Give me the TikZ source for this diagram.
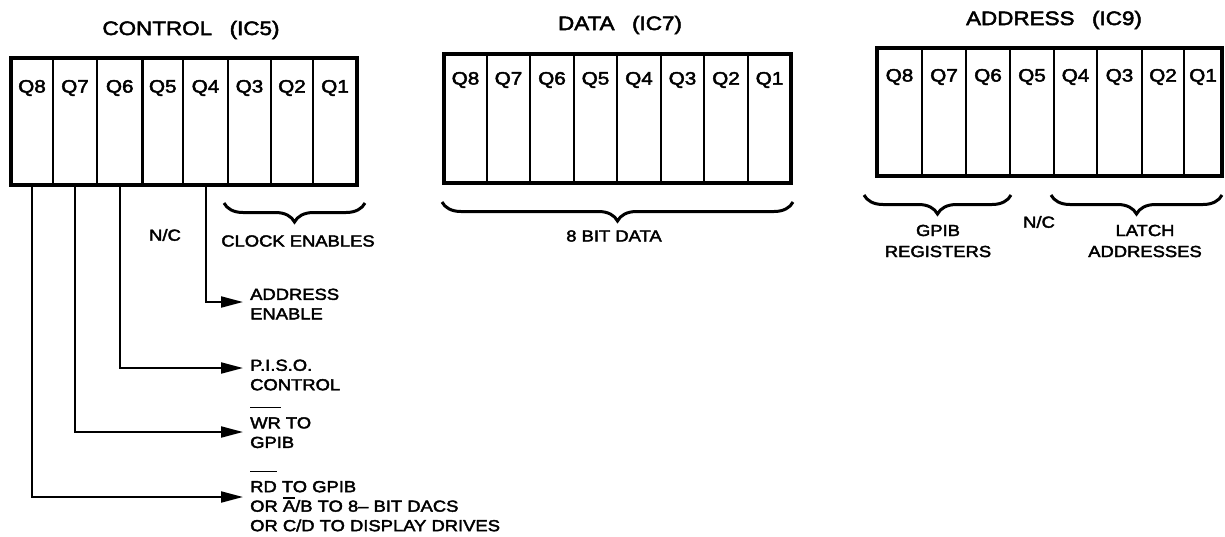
\documentclass[tikz,border=0pt]{standalone}
\usepackage{fontspec}
\setmainfont{Liberation Sans}[FakeStretch=1.15,FakeBold=2.5]
\usetikzlibrary{arrows.meta,decorations.pathreplacing,fit}
\newcommand\myovl[2]{\setbox0\hbox{#2}\rlap{\rule[#1]{\wd0}{1.5pt}}\box0{}}
\begin{document}
\begin{tikzpicture}[x=1pt,y=-1pt,
  cell/.style={draw, line width=2.5pt, inner sep=0pt, outer sep=0pt},
  frame/.style={draw, line width=4.5pt, inner sep=0pt, outer sep=0pt},
  qlbl/.style={font=\fontsize{18}{20}\selectfont, inner sep=0pt},
  ttl/.style={font=\fontsize{19.5}{22}\selectfont, inner sep=0pt},
  lbl/.style={font=\fontsize{16}{19.5}\selectfont, align=left, inner xsep=7pt, inner ysep=0pt},
  clbl/.style={font=\fontsize{16}{21}\selectfont, align=center, inner sep=0pt},
  conn/.style={line width=2pt, -{Triangle[length=22pt,width=11pt]}},
  brc/.style={line width=3pt, decorate, decoration={brace, mirror, amplitude=19pt}},
]
\useasboundingbox (0,0) rectangle (1225,536);

% CONTROL (IC5)
\node[ttl] (tctl) at (191,30) {CONTROL\hspace{0.9em}(IC5)};
\foreach \lab/\xa/\xb in {Q8/11/53,Q7/53/97,Q6/97/142.5,Q5/142.5/183,Q4/183/228,Q3/228/271,Q2/271/313,Q1/313/357}{
  \node[cell, minimum width={(\xb-\xa)*1pt}, minimum height=127pt, anchor=north west] (c\lab) at (\xa,58) {};
  \node[qlbl] (cl\lab) at ([yshift=-30pt]c\lab.north) {\lab};
}
\node[frame, fit=(cQ8)(cQ1)] (ctl) {};

% DATA (IC7)
\node[ttl] (tdat) at (620,25) {DATA\hspace{0.9em}(IC7)};
\foreach \lab/\xa/\xb in {Q8/444/487,Q7/487/530,Q6/530/574,Q5/574/617,Q4/617/661,Q3/661/704,Q2/704/748,Q1/748/791}{
  \node[cell, minimum width={(\xb-\xa)*1pt}, minimum height=129pt, anchor=north west] (d\lab) at (\xa,54) {};
  \node[qlbl] (dl\lab) at ([yshift=-26pt]d\lab.north) {\lab};
}
\node[frame, fit=(dQ8)(dQ1)] (dat) {};

% ADDRESS (IC9)
\node[ttl] (tadr) at (1054,20) {ADDRESS\hspace{0.9em}(IC9)};
\foreach \lab/\xa/\xb in {Q8/877/922,Q7/922/966,Q6/966/1010,Q5/1010/1054,Q4/1054/1097,Q3/1097/1142,Q2/1142/1184,Q1/1184/1222}{
  \node[cell, minimum width={(\xb-\xa)*1pt}, minimum height=128pt, anchor=north west] (a\lab) at (\xa,48) {};
  \node[qlbl] (al\lab) at ([yshift=-29pt]a\lab.north) {\lab};
}
\node[frame, fit=(aQ8)(aQ1)] (adr) {};

% braces and their labels
\draw[brc] (224,203) -- (365,203);
\node[clbl] (clk) at (298,241) {CLOCK ENABLES};
\node[clbl] (nc1) at (165,235) {N/C};
\draw[brc] (442,202) -- (793,202);
\node[clbl] (bits) at (614,236) {8 BIT DATA};
\draw[brc] (864,195) -- (1011,195);
\node[clbl] (gpib) at (938,241) {GPIB\\REGISTERS};
\node[clbl] (nc2) at (1039,222) {N/C};
\draw[brc] (1051,195) -- (1222,195);
\node[clbl] (latch) at (1145,241) {LATCH\\ADDRESSES};

% output labels
\node[lbl, anchor=west] (aen) at (243,304) {ADDRESS\\ENABLE};
\node[lbl, anchor=west] (piso) at (243,375) {P.I.S.O.\\CONTROL};
\node[lbl, anchor=west] (wr) at (243,427.5) {\myovl{20pt}{WR} TO\\GPIB};
\node[lbl, anchor=west] (rd) at (243,501) {\myovl{20pt}{RD} TO GPIB\\OR \myovl{13pt}{A}/B TO 8– BIT DACS\\OR C/D TO DISPLAY DRIVES};

% connectors
\draw[conn] (cQ4.south) |- ([yshift=2pt]aen.west);
\draw[conn] (cQ6.south) |- ([yshift=7pt]piso.west);
\draw[conn] (cQ7.south) |- ([yshift=-4.5pt]wr.west);
\draw[conn] (cQ8.south) |- ([yshift=4pt]rd.west);
\end{tikzpicture}
\end{document}
